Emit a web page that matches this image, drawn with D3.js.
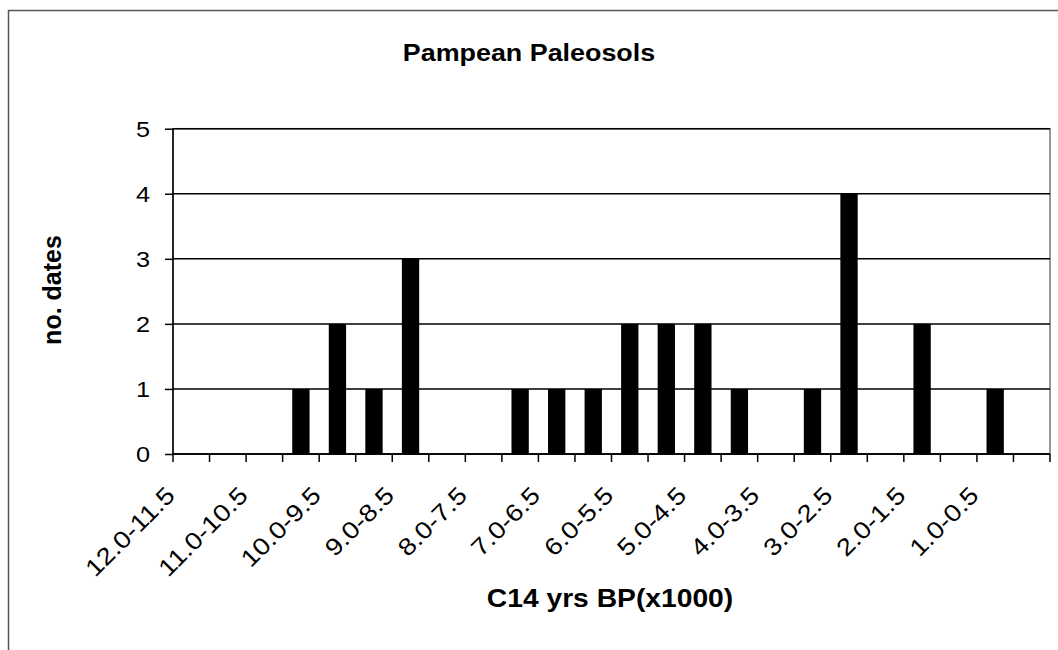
<!DOCTYPE html>
<html>
<head>
<meta charset="utf-8">
<script src="https://cdn.jsdelivr.net/npm/d3@7"></script>
<style>
	body { margin: 0; background: #fff; }
	text { font-family: Arial, "Liberation Sans", sans-serif; fill: #000; }
</style>
</head>
<body>
<script>
//bins of radiocarbon ages, oldest first
var categories = ["12.0-11.5", "11.5-11.0", "11.0-10.5", "10.5-10.0", "10.0-9.5", "9.5-9.0",
	"9.0-8.5", "8.5-8.0", "8.0-7.5", "7.5-7.0", "7.0-6.5", "6.5-6.0", "6.0-5.5", "5.5-5.0",
	"5.0-4.5", "4.5-4.0", "4.0-3.5", "3.5-3.0", "3.0-2.5", "2.5-2.0", "2.0-1.5", "1.5-1.0",
	"1.0-0.5", "0.5-0.0"];
var counts = [0, 0, 0, 1, 2, 1, 3, 0, 0, 1, 1, 1, 2, 2, 2, 1, 0, 1, 4, 0, 2, 0, 1, 0];
//only every other bin gets a label
var tickLabels = ["12.0-11.5", "11.0-10.5", "10.0-9.5", "9.0-8.5", "8.0-7.5", "7.0-6.5",
	"6.0-5.5", "5.0-4.5", "4.0-3.5", "3.0-2.5", "2.0-1.5", "1.0-0.5"];
var yTicks = [0, 1, 2, 3, 4, 5];

window.onload = function(){

	var w = 1058, h = 650;
	var left = 173, right = 1050, top = 128.7, bottom = 454;

	var svg = d3.select("body")
		.append("svg")
		.attr("width", w)
		.attr("height", h);

	//outer chart border, right and bottom run off the picture
	svg.append("rect")
		.attr("x", 8.5)
		.attr("y", 10.5)
		.attr("width", 1100)
		.attr("height", 700)
		.style("fill", "#fff")
		.style("stroke", "#555")
		.style("stroke-width", 1.5);

	var x = d3.scaleBand()
		.domain(categories)
		.range([left, right])
		.padding(0);

	var y = d3.scaleLinear()
		.domain([0, 5])
		.range([bottom, top]);

	//plot area border (only the right edge shows)
	svg.append("rect")
		.attr("x", left)
		.attr("y", top)
		.attr("width", right - left)
		.attr("height", bottom - top)
		.style("fill", "none")
		.style("stroke", "#777")
		.style("stroke-width", 1.5);

	//gridlines
	svg.selectAll(".grid")
		.data(yTicks)
		.enter()
		.append("line")
		.attr("class", "grid")
		.attr("x1", left)
		.attr("x2", right)
		.attr("y1", function(d){ return y(d); })
		.attr("y2", function(d){ return y(d); })
		.style("stroke", "#000")
		.style("stroke-width", 1.5);

	//bars
	var barW = x.bandwidth() * 0.474;
	svg.selectAll(".bar")
		.data(counts)
		.enter()
		.append("rect")
		.attr("class", "bar")
		.attr("x", function(d, i){
			return x(categories[i]) + (x.bandwidth() - barW) / 2;
		})
		.attr("y", function(d){ return y(d); })
		.attr("width", barW)
		.attr("height", function(d){ return bottom - y(d); })
		.style("fill", "#000");

	//y axis
	var yAxis = d3.axisLeft(y)
		.tickValues(yTicks)
		.tickSize(8)
		.tickFormat("");
	svg.append("g")
		.attr("transform", "translate(" + left + ",0)")
		.call(yAxis)
		.call(function(g){
			g.select(".domain").attr("stroke-width", 1.5).attr("d", "M0," + top + "V" + bottom);
			g.selectAll(".tick line").attr("stroke-width", 1.5);
		});

	svg.selectAll(".ylab")
		.data(yTicks)
		.enter()
		.append("text")
		.attr("class", "ylab")
		.attr("transform", function(d){
			return "translate(150," + y(d) + ") scale(1.15,1)";
		})
		.attr("dy", "0.36em")
		.attr("text-anchor", "end")
		.style("font-size", "22px")
		.text(function(d){ return d; });

	//x axis: ticks sit on bin boundaries
	var edges = categories.map(function(c){ return x(c); }).concat([right]);
	svg.append("line")
		.attr("x1", left)
		.attr("x2", right)
		.attr("y1", bottom)
		.attr("y2", bottom)
		.style("stroke", "#000")
		.style("stroke-width", 1.5);
	svg.selectAll(".xtick")
		.data(edges)
		.enter()
		.append("line")
		.attr("class", "xtick")
		.attr("x1", function(d){ return d; })
		.attr("x2", function(d){ return d; })
		.attr("y1", bottom)
		.attr("y2", bottom + 8)
		.style("stroke", "#000")
		.style("stroke-width", 1.5);

	svg.selectAll(".xlab")
		.data(tickLabels)
		.enter()
		.append("text")
		.attr("class", "xlab")
		.attr("transform", function(d){
			var cx = x(d) + x.bandwidth() / 2 - 15;
			return "translate(" + cx + "," + (bottom + 43) + ") rotate(-45) scale(1.15,1)";
		})
		.attr("text-anchor", "end")
		.style("font-size", "24px")
		.text(function(d){ return d; });

	//titles
	svg.append("text")
		.attr("transform", "translate(529,61) scale(1.12,1)")
		.attr("text-anchor", "middle")
		.style("font-size", "24px")
		.style("font-weight", "bold")
		.text("Pampean Paleosols");

	svg.append("text")
		.attr("transform", "translate(61,290) rotate(-90)")
		.attr("text-anchor", "middle")
		.style("font-size", "25px")
		.style("font-weight", "bold")
		.text("no. dates");

	svg.append("text")
		.attr("transform", "translate(610,607) scale(1.13,1)")
		.attr("text-anchor", "middle")
		.style("font-size", "25px")
		.style("font-weight", "bold")
		.text("C14 yrs BP(x1000)");
};
</script>
</body>
</html>
